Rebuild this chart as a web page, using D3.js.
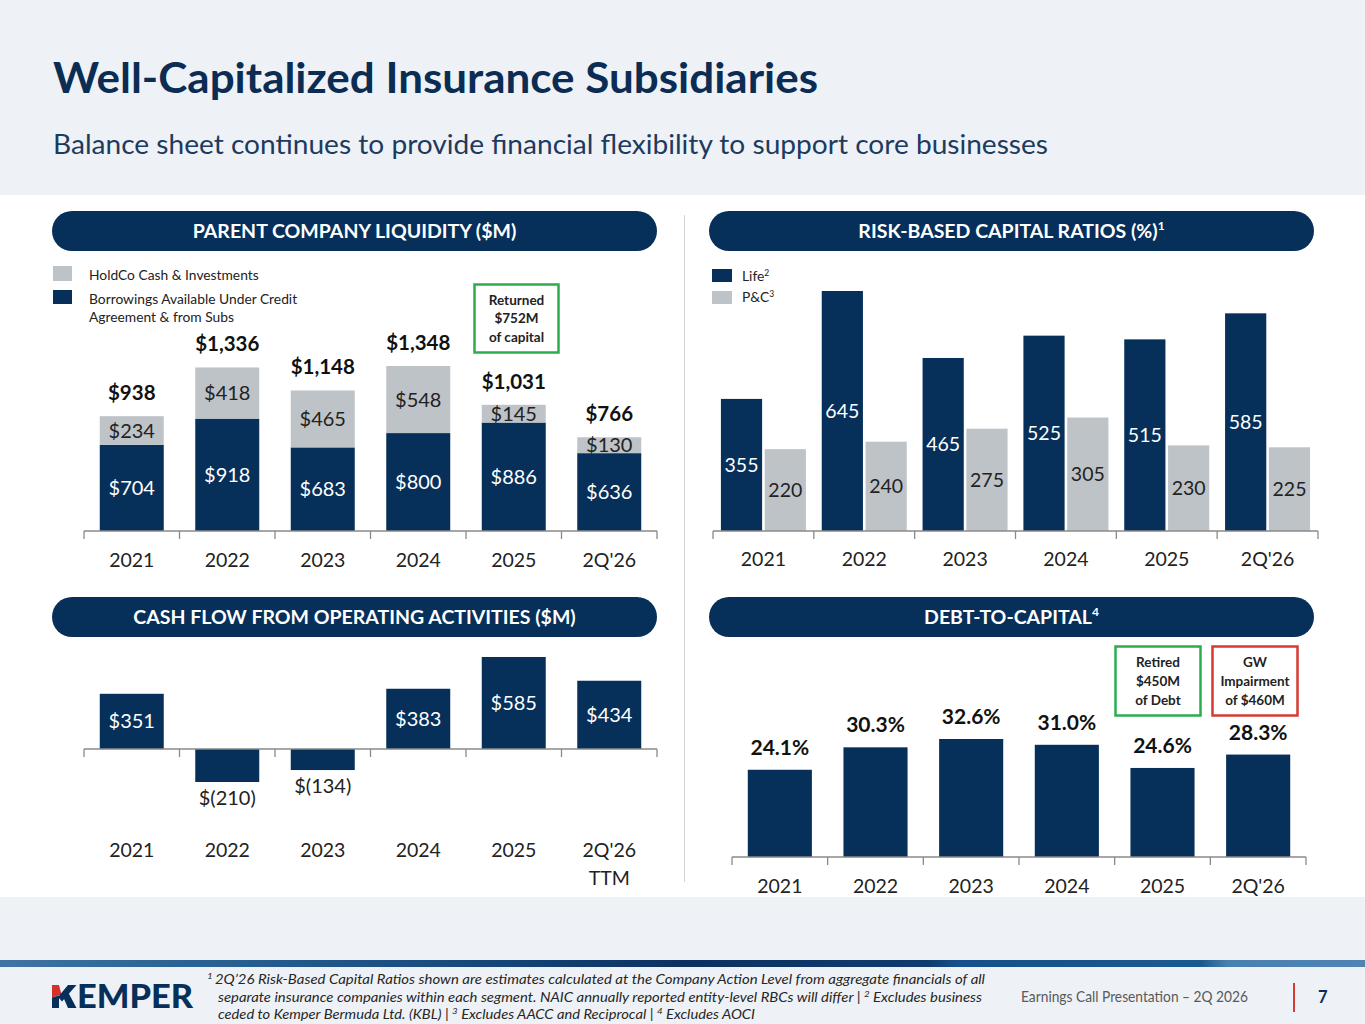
<!DOCTYPE html>
<html>
<head>
<meta charset="utf-8">
<script src="https://cdn.jsdelivr.net/npm/d3@7"></script>
<style>
  body { margin: 0; background: #fff; }
  svg { display: block; font-family: Lato, "Open Sans", sans-serif; }
</style>
</head>
<body>
<svg id="slide" width="1365" height="1024"></svg>
<script>
// Values
var years = ["2021", "2022", "2023", "2024", "2025", "2Q'26"];

// Parent company liquidity ($M)
var holdcoCash = [234, 418, 465, 548, 145, 130];
var borrowings = [704, 918, 683, 800, 886, 636];

// Risk-based capital ratios (%)
var rbcLife = [355, 645, 465, 525, 515, 585];
var rbcPC = [220, 240, 275, 305, 230, 225];

// Cash flow from operating activities ($M)
var cashFlowYears = ["2021", "2022", "2023", "2024", "2025", "2Q'26 TTM"];
var cashFlow = [351, -210, -134, 383, 585, 434];

// Debt-to-capital (%)
var debtToCapital = [24.1, 30.3, 32.6, 31.0, 24.6, 28.3];

// Call-out boxes
var liquidityNote = ["Returned", "$752M", "of capital"];
var debtNote = ["Retired", "$450M", "of Debt"];
var impairmentNote = ["GW", "Impairment", "of $460M"];

var navy = "#062f5a", gray = "#bec3c8", ink = "#222", pale = "#eef2f6";
var money = d3.format(",");

var svg = d3.select("#slide");
var defs = svg.append("defs");

// Backgrounds
svg.append("rect").attr("width", 1365).attr("height", 1024).attr("fill", "#fff");
svg.append("rect").attr("width", 1365).attr("height", 195).attr("fill", pale);
svg.append("rect").attr("y", 897).attr("width", 1365).attr("height", 127).attr("fill", pale);

var grad = defs.append("linearGradient").attr("id", "stripe");
[["0", "#3f74a3"], ["0.12", "#2d6496"], ["0.3", "#1b4f82"], ["0.5", "#0b3161"],
 ["0.68", "#0f3c6d"], ["0.7", "#16508a"], ["0.88", "#1b5a8f"], ["0.9", "#4a80b0"], ["1", "#4f84b3"]]
  .forEach(function(s) { grad.append("stop").attr("offset", s[0]).attr("stop-color", s[1]); });
svg.append("rect").attr("y", 960).attr("width", 1365).attr("height", 7).attr("fill", "url(#stripe)");

// set a text element to the width it has on the slide (slide font is narrower than ours)
function fit(sel, w) {
  sel.attr("textLength", w).attr("lengthAdjust", "spacingAndGlyphs");
  return sel;
}

// Title block
fit(svg.append("text")
  .attr("x", 53).attr("y", 93)
  .attr("font-size", 42).attr("font-weight", 700)
  .attr("fill", "#0b2d54")
  .text("Well-Capitalized Insurance Subsidiaries"), 765);

fit(svg.append("text")
  .attr("x", 53).attr("y", 154)
  .attr("font-size", 27)
  .attr("fill", "#1d3a5f")
  .text("Balance sheet continues to provide financial flexibility to support core businesses"), 995);

// Divider between the two columns
svg.append("line")
  .attr("x1", 684.5).attr("x2", 684.5).attr("y1", 215).attr("y2", 882)
  .attr("stroke", "#d4d4d4");

// Section header pills
function pill(x0, y0, w, label, sup) {
  svg.append("rect")
    .attr("x", x0).attr("y", y0).attr("width", w).attr("height", 40)
    .attr("rx", 20).attr("fill", navy);
  var t = svg.append("text")
    .attr("x", x0 + w / 2).attr("y", y0 + 27)
    .attr("text-anchor", "middle")
    .attr("fill", "#fff").attr("font-size", 19.5).attr("font-weight", 700)
    .text(label);
  if (sup) t.append("tspan").attr("font-size", 12).attr("dy", -8).text(sup);
}
pill(52, 211, 605, "PARENT COMPANY LIQUIDITY ($M)");
pill(709, 211, 605, "RISK-BASED CAPITAL RATIOS (%)", "1");
pill(52, 597, 605, "CASH FLOW FROM OPERATING ACTIVITIES ($M)");
pill(709, 597, 605, "DEBT-TO-CAPITAL", "4");

// Category axis: labels from d3.axisBottom, own baseline and ticks on band edges
function categoryAxis(x, y0, pad) {
  var g = svg.append("g").attr("transform", "translate(0," + y0 + ")");
  g.call(d3.axisBottom(x).tickSize(0).tickPadding(pad));
  g.select(".domain").remove();
  g.selectAll(".tick text")
    .attr("font-size", 19.5).attr("font-family", "Lato, 'Open Sans', sans-serif")
    .attr("fill", ink)
    .each(function(d) {
      var words = d.split(" ");
      if (words.length < 2) return;
      var t = d3.select(this).text(null);
      words.forEach(function(w, i) {
        t.append("tspan").attr("x", 0).attr("dy", i ? "1.45em" : null).text(w);
      });
    });
  var r = x.range();
  g.append("line").attr("x1", r[0]).attr("x2", r[1]).attr("stroke", "#8a8a8a").attr("stroke-width", 1.3);
  g.selectAll(".edge")
    .data(d3.range(x.domain().length + 1))
    .enter().append("line")
    .attr("class", "edge")
    .attr("x1", function(i) { return r[0] + i * x.step(); })
    .attr("x2", function(i) { return r[0] + i * x.step(); })
    .attr("y2", 8)
    .attr("stroke", "#8a8a8a").attr("stroke-width", 1.3);
}

function noteBox(x0, y0, w, h, color, lines, pitch) {
  svg.append("rect")
    .attr("x", x0).attr("y", y0).attr("width", w).attr("height", h)
    .attr("fill", "#fff").attr("stroke", color).attr("stroke-width", 2.5);
  svg.append("g").selectAll("text")
    .data(lines)
    .enter().append("text")
    .attr("x", x0 + w / 2)
    .attr("y", function(d, i) { return y0 + 20 + i * pitch; })
    .attr("text-anchor", "middle")
    .attr("font-size", 13.5).attr("font-weight", 700).attr("fill", ink)
    .text(function(d) { return d; });
}

// ---------- Parent company liquidity ----------
var x1 = d3.scaleBand().domain(years).range([84, 657]).paddingInner(0.33).paddingOuter(0.165);
var y1 = d3.scaleLinear().domain([0, 1348]).range([531, 366]);

var liqRows = years.map(function(yr, i) {
  return { year: yr, borrowings: borrowings[i], holdco: holdcoCash[i] };
});
var stacked = d3.stack().keys(["borrowings", "holdco"])(liqRows);
var liqColor = { borrowings: navy, holdco: gray };
var liqText = { borrowings: "#fff", holdco: ink };

var layers = svg.selectAll(".liq")
  .data(stacked)
  .enter().append("g")
  .attr("class", "liq");

layers.selectAll("rect")
  .data(function(s) { return s.map(function(d) { d.key = s.key; return d; }); })
  .enter().append("rect")
  .attr("x", function(d) { return x1(d.data.year); })
  .attr("y", function(d) { return y1(d[1]); })
  .attr("width", x1.bandwidth())
  .attr("height", function(d) { return y1(d[0]) - y1(d[1]); })
  .attr("fill", function(d) { return liqColor[d.key]; });

layers.selectAll("text")
  .data(function(s) { return s; })
  .enter().append("text")
  .attr("x", function(d) { return x1(d.data.year) + x1.bandwidth() / 2; })
  .attr("y", function(d) { return (y1(d[0]) + y1(d[1])) / 2; })
  .attr("dy", ".35em")
  .attr("text-anchor", "middle")
  .attr("font-size", 20)
  .attr("fill", function(d) { return liqText[d.key]; })
  .text(function(d) { return "$" + money(d[1] - d[0]); });

svg.append("g").selectAll("text")
  .data(liqRows)
  .enter().append("text")
  .attr("x", function(d) { return x1(d.year) + x1.bandwidth() / 2; })
  .attr("y", function(d) { return y1(d.borrowings + d.holdco) - 16; })
  .attr("text-anchor", "middle")
  .attr("font-size", 20.5).attr("font-weight", 700).attr("fill", "#111")
  .text(function(d) { return "$" + money(d.borrowings + d.holdco); });

categoryAxis(x1, 531, 22);

// legend
svg.append("rect").attr("x", 53).attr("y", 266).attr("width", 19).attr("height", 15).attr("fill", gray);
svg.append("rect").attr("x", 53).attr("y", 290).attr("width", 19).attr("height", 14).attr("fill", navy);
svg.append("g").selectAll("text")
  .data([["HoldCo Cash & Investments", 280], ["Borrowings Available Under Credit", 304], ["Agreement & from Subs", 322]])
  .enter().append("text")
  .attr("x", 89).attr("y", function(d) { return d[1]; })
  .attr("font-size", 13.8).attr("fill", ink)
  .text(function(d) { return d[0]; });

noteBox(474.5, 284.5, 84, 68, "#2bad4e", liquidityNote, 18.5);

// ---------- Risk-based capital ratios ----------
var x2 = d3.scaleBand().domain(years).range([713, 1318]).paddingInner(0.157).paddingOuter(0.0785);
var x2s = d3.scaleBand().domain(["life", "pc"]).range([0, x2.bandwidth()]).paddingInner(0.06);
var y2 = d3.scaleLinear().domain([0, 645]).range([531, 291]);

var rbcRows = years.map(function(yr, i) { return { year: yr, life: rbcLife[i], pc: rbcPC[i] }; });
var rbcColor = { life: navy, pc: gray }, rbcText = { life: "#fff", pc: ink };

var groups = svg.selectAll(".rbc")
  .data(rbcRows)
  .enter().append("g")
  .attr("class", "rbc")
  .attr("transform", function(d) { return "translate(" + x2(d.year) + ",0)"; });

var cells = groups.selectAll("g")
  .data(function(d) { return ["life", "pc"].map(function(k) { return { key: k, value: d[k] }; }); })
  .enter().append("g");

cells.append("rect")
  .attr("x", function(d) { return x2s(d.key); })
  .attr("y", function(d) { return y2(d.value); })
  .attr("width", x2s.bandwidth())
  .attr("height", function(d) { return y2(0) - y2(d.value); })
  .attr("fill", function(d) { return rbcColor[d.key]; });

cells.append("text")
  .attr("x", function(d) { return x2s(d.key) + x2s.bandwidth() / 2; })
  .attr("y", function(d) { return (y2(0) + y2(d.value)) / 2; })
  .attr("dy", ".35em")
  .attr("text-anchor", "middle")
  .attr("font-size", 19.5)
  .attr("fill", function(d) { return rbcText[d.key]; })
  .text(function(d) { return d.value; });

categoryAxis(x2, 531, 21);

svg.append("rect").attr("x", 712).attr("y", 269).attr("width", 20).attr("height", 13).attr("fill", navy);
svg.append("rect").attr("x", 712).attr("y", 291).attr("width", 20).attr("height", 13).attr("fill", gray);
[["Life", "2", 281], ["P&C", "3", 302]].forEach(function(l) {
  var t = svg.append("text").attr("x", 742).attr("y", l[2]).attr("font-size", 13.8).attr("fill", ink).text(l[0]);
  t.append("tspan").attr("font-size", 8.5).attr("dy", -5).text(l[1]);
});

// ---------- Cash flow from operations ----------
var x3 = d3.scaleBand().domain(cashFlowYears).range([84, 657]).paddingInner(0.33).paddingOuter(0.165);
var y3 = d3.scaleLinear().domain([-210, 585]).range([782, 657]);

var cfRows = cashFlowYears.map(function(yr, i) { return { year: yr, value: cashFlow[i] }; });

svg.append("g").selectAll("rect")
  .data(cfRows)
  .enter().append("rect")
  .attr("x", function(d) { return x3(d.year); })
  .attr("y", function(d) { return y3(Math.max(0, d.value)); })
  .attr("width", x3.bandwidth())
  .attr("height", function(d) { return Math.abs(y3(d.value) - y3(0)); })
  .attr("fill", navy);

svg.append("g").selectAll("text")
  .data(cfRows)
  .enter().append("text")
  .attr("x", function(d) { return x3(d.year) + x3.bandwidth() / 2; })
  .attr("y", function(d) { return d.value >= 0 ? (y3(d.value) + y3(0)) / 2 : y3(d.value) + 16; })
  .attr("dy", ".35em")
  .attr("text-anchor", "middle")
  .attr("font-size", 20)
  .attr("fill", function(d) { return d.value >= 0 ? "#fff" : ink; })
  .text(function(d) { return d.value >= 0 ? "$" + money(d.value) : "$(" + money(-d.value) + ")"; });

categoryAxis(x3, y3(0), 94);

// ---------- Debt-to-capital ----------
var x4 = d3.scaleBand().domain(years).range([732, 1306]).paddingInner(0.33).paddingOuter(0.165);
var y4 = d3.scaleLinear().domain([0, 32.6]).range([857, 739]);

var dtcRows = years.map(function(yr, i) { return { year: yr, value: debtToCapital[i] }; });

svg.append("g").selectAll("rect")
  .data(dtcRows)
  .enter().append("rect")
  .attr("x", function(d) { return x4(d.year); })
  .attr("y", function(d) { return y4(d.value); })
  .attr("width", x4.bandwidth())
  .attr("height", function(d) { return y4(0) - y4(d.value); })
  .attr("fill", navy);

svg.append("g").selectAll("text")
  .data(dtcRows)
  .enter().append("text")
  .attr("x", function(d) { return x4(d.year) + x4.bandwidth() / 2; })
  .attr("y", function(d) { return y4(d.value) - 15; })
  .attr("text-anchor", "middle")
  .attr("font-size", 21).attr("font-weight", 700).attr("fill", "#111")
  .text(function(d) { return d3.format(".1f")(d.value) + "%"; });

categoryAxis(x4, 857, 22);

noteBox(1115.5, 646.5, 85, 69, "#2bad4e", debtNote, 19);
noteBox(1212.5, 646.5, 85, 69, "#d63a32", impairmentNote, 19);

// ---------- Footer ----------
// logo mark: K with a red top to its stem
var kMark = svg.append("g").attr("transform", "translate(52,985)");
kMark.append("path").attr("d", "M0,0H7L9.5,9.5L0,12.5Z").attr("fill", "#d4312b");
kMark.append("path").attr("d", "M0,12.5L7,10.5V23H0Z").attr("fill", navy);
kMark.append("path").attr("d", "M6,12L16,0H24.5L10,16.5Z").attr("fill", navy);
kMark.append("path").attr("d", "M11,11.5L16,7L24.5,23H16Z").attr("fill", navy);

svg.append("text")
  .attr("x", 77).attr("y", 1008)
  .attr("font-size", 32).attr("font-weight", 900).attr("fill", navy)
  .attr("textLength", 116).attr("lengthAdjust", "spacingAndGlyphs")
  .text("EMPER");

var notes = [
  [["sup", "1 "], ["", "2Q’26 Risk-Based Capital Ratios shown are estimates calculated at the Company Action Level from aggregate financials of all"]],
  [["", "separate insurance companies within each segment. NAIC annually reported entity-level RBCs will differ | "], ["sup", "2"], ["", " Excludes business"]],
  [["", "ceded to Kemper Bermuda Ltd. (KBL) | "], ["sup", "3"], ["", " Excludes AACC and Reciprocal | "], ["sup", "4"], ["", " Excludes AOCI"]]
];
var noteX = [207, 218, 218], noteY = [984, 1002, 1019], noteW = [778, 764, 537];

notes.forEach(function(parts, i) {
  var t = svg.append("text")
    .attr("x", noteX[i]).attr("y", noteY[i])
    .attr("font-size", 13).attr("font-style", "italic").attr("fill", "#262626");
  var raised = false;
  parts.forEach(function(p) {
    if (p[0] === "sup") {
      t.append("tspan").attr("font-size", 8.5).attr("dy", -5).text(p[1]);
      raised = true;
    } else {
      t.append("tspan").attr("dy", raised ? 5 : null).text(p[1]);
      raised = false;
    }
  });
  fit(t, noteW[i]);
});

fit(svg.append("text")
  .attr("x", 1021).attr("y", 1002)
  .attr("font-size", 15).attr("fill", "#595959")
  .text("Earnings Call Presentation – 2Q 2026"), 227);

svg.append("line")
  .attr("x1", 1294).attr("x2", 1294).attr("y1", 983).attr("y2", 1012)
  .attr("stroke", "#d63a32").attr("stroke-width", 2);

svg.append("text")
  .attr("x", 1318).attr("y", 1003)
  .attr("font-size", 16.5).attr("font-weight", 700).attr("fill", navy)
  .text("7");
</script>
</body>
</html>
